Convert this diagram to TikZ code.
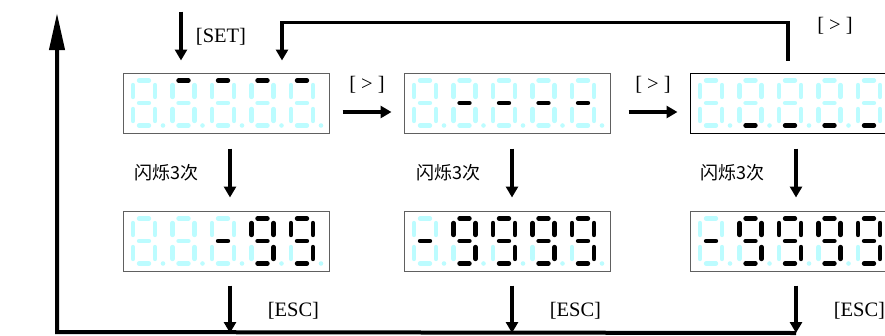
\documentclass[tikz,border=0pt]{standalone}
\usepackage{fontspec}
\setmainfont{Liberation Serif}
\newfontfamily\cjk{Noto Sans CJK SC}
\usepackage{tikz}
\usetikzlibrary{arrows.meta,positioning}
\definecolor{SegOff}{HTML}{BCFCFF}
\definecolor{BoxLine}{HTML}{606060}

\tikzset{
  seg/.style={line width=4.4pt,line cap=round},
  sega/.style={draw=SegOff}, segb/.style={draw=SegOff}, segc/.style={draw=SegOff},
  segd/.style={draw=SegOff}, sege/.style={draw=SegOff}, segf/.style={draw=SegOff},
  segg/.style={draw=SegOff}, segp/.style={fill=SegOff},
  lit/.style={seg#1/.style={draw=black}}}
% one digit: box node, offset of its left stroke, lit segments
\newcommand{\sevenseg}[3]{%
  \begin{scope}[shift={(#1.center)},shift={(#2,0)},lit/.list={#3}]
    \draw[seg,sega] (6,-22.5) -- (16,-22.5);
    \draw[seg,segb] (22,-18) -- (22,-6);
    \draw[seg,segc] (22,6) -- (22,18);
    \draw[seg,segd] (6,22.5) -- (16,22.5);
    \draw[seg,sege] (0,6) -- (0,18);
    \draw[seg,segf] (0,-18) -- (0,-6);
    \draw[seg,segg] (6,0) -- (16,0);
    \fill[segp] (30,22.5) circle (2.3);
  \end{scope}}
% five digits in one display box
\newcommand{\display}[6]{%
  \sevenseg{#1}{-93}{#2}\sevenseg{#1}{-53.5}{#3}\sevenseg{#1}{-14}{#4}%
  \sevenseg{#1}{25.5}{#5}\sevenseg{#1}{65}{#6}}

\begin{document}
\begin{tikzpicture}[x=1pt,y=-1pt,
  box/.style={draw=BoxLine,line width=1pt,minimum width=206pt,minimum height=60pt,inner sep=0pt},
  arr/.style={-{Triangle[length=11pt,width=12pt]},line width=3.5pt},
  retarr/.style={-{Triangle[length=37pt,width=15pt]},line width=4pt},
  lbl/.style={font=\fontsize{20.5}{24}\selectfont,inner sep=0pt},
  cjklbl/.style={font=\cjk\fontsize{18}{20}\selectfont,inner sep=0pt}]
\useasboundingbox (0,0) rectangle (885,335);
\clip (0,0) rectangle (885,335);

\node[box] (top1) at (226,103) {};
\node[box,right=74pt of top1] (top2) {};
\node[box,right=79pt of top2,draw=black] (top3) {};
\node[box,below=77pt of top1] (bot1) {};
\node[box,below=77pt of top2] (bot2) {};
\node[box,below=77pt of top3] (bot3) {};

\display{top1}{none}{a}{a}{a}{a}
\display{top2}{none}{g}{g}{g}{g}
\display{top3}{none}{d}{d}{d}{d}
\display{bot1}{none}{none}{g}{a,b,c,d,f,g}{a,b,c,d,f,g}
\display{bot2}{g}{a,b,c,d,f,g}{a,b,c,d,f,g}{a,b,c,d,f,g}{a,b,c,d,f,g}
\display{bot3}{g}{a,b,c,d,f,g}{a,b,c,d,f,g}{a,b,c,d,f,g}{a,b,c,d,f,g}

% entry and loop back
\coordinate (setfrom) at ([xshift=-45pt,yshift=61pt]top1.north);
\draw[arr] (setfrom) -- ([xshift=-45pt,yshift=12pt]top1.north);
\node[lbl] (setlbl) at ([xshift=-5pt,yshift=36pt]top1.north) {[SET]};
\draw[arr] ([xshift=-5pt,yshift=12pt]top3.north) -- ++(0,-38)
  -| ([xshift=56pt,yshift=12pt]top1.north);
\node[lbl] (backlbl) at ([xshift=42pt,yshift=47pt]top3.north) {[ > ]};

% shift to the next position
\draw[arr] ([xshift=13pt,yshift=-9pt]top1.east) -- ([xshift=-12pt,yshift=-9pt]top2.west)
  node[lbl,midway,above=17pt] (next1) {[ > ]};
\draw[arr] ([xshift=18pt,yshift=-9pt]top2.east) -- ([xshift=-12pt,yshift=-9pt]top3.west)
  node[lbl,midway,above=17pt] (next2) {[ > ]};

% blink and escape
\foreach \b/\dx in {1/4,2/5,3/3} {
  \draw[arr] ([xshift=\dx pt,yshift=-15pt]top\b.south) -- ([xshift=\dx pt,yshift=13pt]bot\b.north)
    node[cjklbl,midway,left=30pt] (blink\b) {闪烁3次};
  \coordinate (base\b) at ([xshift=\dx pt,yshift=-61.5pt]bot\b.south);
  \draw[arr] ([xshift=\dx pt,yshift=-14pt]bot\b.south) -- (base\b)
    node[lbl,midway,right=36pt,yshift=-2pt] (esc\b) {[ESC]};
}
\coordinate (retcorner) at (57,332);
\coordinate (rettip) at (57,13);
\draw[retarr] (base3) -- (retcorner) -- (rettip);
\end{tikzpicture}
\end{document}
